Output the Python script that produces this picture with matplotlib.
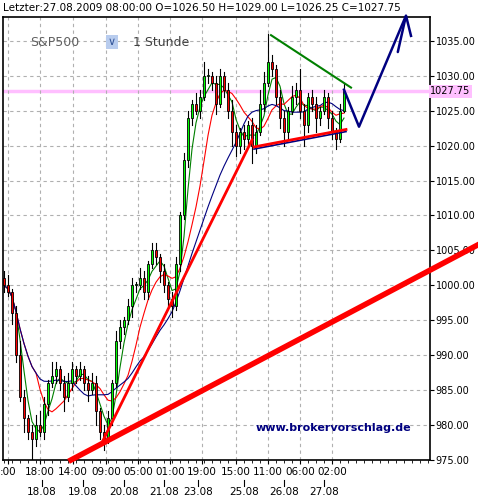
import matplotlib
matplotlib.use("Agg")
import matplotlib.pyplot as plt
import numpy as np
import pandas as pd
from matplotlib.patches import Rectangle

closes = [1000, 999, 996, 990, 984, 981, 979, 978, 980, 979, 983, 986, 987, 988, 986, 984, 986, 988, 987, 988,
          986, 985, 986, 982, 979, 978, 981, 986, 992, 994, 995, 997, 1000, 1000, 1001, 999, 1003, 1005, 1004, 1002,
          1000, 998, 997, 1003, 1010, 1018, 1024, 1026, 1025, 1027, 1030, 1030, 1029, 1026, 1030, 1028, 1025, 1022, 1020, 1022,
          1021, 1023, 1020, 1022, 1026, 1029, 1032, 1031, 1027, 1024, 1022, 1025, 1027, 1028, 1025, 1023, 1027, 1026, 1024, 1025,
          1027, 1024, 1022, 1021, 1025, 1027.75]
wick_up = [1, 1.5, 0.5, 1, 2, 1, 0.5, 1, 1.5, 2, 1, 0.5, 2, 1, 0.5, 1, 1.5, 1, 0.5, 1,
           0.5, 1, 1.5, 1, 0.5, 1, 1, 0.5, 1.5, 1, 0.5, 1, 1, 0.5, 1.5, 1, 0.5, 1, 1, 0.5,
           1, 0.5, 1, 1, 0.5, 1, 1, 0.5, 1.5, 1, 2, 1, 0.5, 1, 1, 0.5, 1, 1.5, 1, 0.5,
           1, 0.5, 1, 1, 2, 1.5, 4, 1, 0.5, 1, 1, 0.5, 1.5, 1, 3, 1, 0.5, 1, 1, 0.5,
           1, 0.5, 1, 0.5, 1, 1.25]
wick_dn = [1, 0.5, 1.5, 1, 0.5, 2, 1, 3, 1, 0.5, 1, 1.5, 0.5, 1, 1, 2, 0.5, 1, 1, 0.5,
           1, 1.5, 0.5, 2, 1, 1.5, 0.5, 1, 0.5, 1, 1, 0.5, 1.5, 1, 0.5, 1, 1, 0.5, 1, 1.5,
           1, 1, 1.5, 0.5, 1, 0.5, 1, 1, 0.5, 1, 0.5, 1, 1, 1.5, 0.5, 1, 1, 2, 1.5, 1,
           1.5, 1, 2.5, 1, 0.5, 1, 0.5, 1, 1, 1.5, 2, 1, 0.5, 1, 1, 3, 1, 1, 2, 1,
           0.5, 1.5, 1, 1.5, 0.5, 0.25]
open0 = 1001
ma_periods = [4, 9, 18]
ma_colors = ["#008000", "#ff0000", "#000080"]
yticks = [975, 980, 985, 990, 995, 1000, 1005, 1010, 1015, 1020, 1025, 1030, 1035]
time_labels = [":00", "18:00", "14:00", "09:00", "05:00", "01:00", "19:00", "15:00", "11:00", "06:00", "02:00"]
time_pos = [1, 9, 17.25, 25.5, 33.5, 41.5, 49.5, 58, 66, 74, 82]
date_labels = ["18.08", "19.08", "20.08", "21.08", "23.08", "25.08", "26.08", "27.08"]
date_pos = [9.5, 19.75, 30, 40, 48.5, 60, 70, 80]
last_price = 1027.75
# trend lines (index, price)
long_trend = ([16.75, 118.5], [975, 1005.8])
steep_trend = ([24.5, 62], [977.5, 1020.8])
tri_low = ([62.5, 85.5], [1019.8, 1022.3])
tri_high = ([66.75, 86.75], [1035.8, 1028.3])
projection = ([85, 88.75, 100.5, 101.75], [1028, 1022.7, 1038.6, 1035.7])

fig = plt.figure(figsize=(4.78, 5.0), dpi=100)
ax = fig.add_axes([3/478, 40/500, 427/478, 443/500])
ax.set_xlim(-0.25, 106.5)
ax.set_ylim(975, 1038.4)

c = np.array(closes, float)
o = np.concatenate([[open0], c[:-1]])
hi = np.maximum(o, c) + np.array(wick_up)
lo = np.minimum(o, c) - np.array(wick_dn)
s = pd.Series(c)
for p, col in zip(ma_periods, ma_colors):
    ax.plot(np.arange(len(c)), s.rolling(p, min_periods=1).mean(), color=col, lw=0.8, zorder=2)
for i in range(len(c)):
    ax.plot([i, i], [lo[i], hi[i]], color="black", lw=0.8, zorder=3)
    b = min(o[i], c[i]); h = max(abs(c[i]-o[i]), 0.15)
    ax.add_patch(Rectangle((i-0.35, b), 0.7, h, facecolor="#00ff00" if c[i] >= o[i] else "#ff0000",
                           edgecolor="black", lw=0.6, zorder=4))

ax.axhline(last_price, color="#ffb0ff", lw=2.5, zorder=1, alpha=0.8)
ax.plot(*long_trend, color="#ff0000", lw=4, zorder=5, clip_on=False)
ax.plot(*steep_trend, color="#ff0000", lw=2, zorder=5)
ax.plot(tri_low[0], [v-0.3 for v in tri_low[1]], color="#000080", lw=1.2, zorder=5)
ax.plot(*tri_low, color="#ff0000", lw=2, zorder=5)
ax.plot(*tri_high, color="#008000", lw=1.5, zorder=5)
ax.plot(*projection, color="#000080", lw=1.8, zorder=5, clip_on=False)
ax.annotate("", xy=(projection[0][2], projection[1][2]), xytext=(projection[0][2]-2.2, projection[1][2]-5.6),
            arrowprops=dict(arrowstyle="-", color="#000080", lw=1.8), annotation_clip=False)

ax.grid(True, color="#b0b0b0", ls=(0, (3, 3)), lw=0.8)
ax.set_yticks(yticks)
ax.set_yticklabels([f"{v:.2f}" for v in yticks], fontsize=7)
ax.yaxis.tick_right()
ax.set_xticks(time_pos)
ax.set_xticklabels(time_labels, fontsize=7.5)
ax.set_xticks(np.arange(0, 107, 2), minor=True)
ax.tick_params(axis="both", length=3, pad=2)
ax.tick_params(axis="y", pad=1)
ax.tick_params(axis="x", which="minor", length=2)
for sp in ax.spines.values():
    sp.set_linewidth(1.2)
for lab, p in zip(date_labels, date_pos):
    ax.text(p, -0.062, lab, transform=ax.get_xaxis_transform(), ha="center", va="top", fontsize=7.5)
    ax.plot([p, p], [-0.045, -0.058], transform=ax.get_xaxis_transform(), color="black", lw=0.8, clip_on=False)
ax.text(1.0, last_price, f"{last_price:.2f}", transform=ax.get_yaxis_transform(), ha="left", va="center",
        fontsize=7, bbox=dict(boxstyle="square,pad=0.15", fc="#ffc0ff", ec="none"))

fig.text(3/478, 1-8/500, "Letzter:27.08.2009 08:00:00 O=1026.50 H=1029.00 L=1026.25 C=1027.75",
         fontsize=7.5, va="center", ha="left")
fig.text(30/478, 1-42/500, "S&P500", fontsize=9, color="#606060", va="center")
fig.text(108/478, 1-42/500, "\u2228", fontsize=8, color="#335599", va="center",
         bbox=dict(boxstyle="square,pad=0.2", fc="#b8ccee", ec="none"))
fig.text(133/478, 1-42/500, "1 Stunde", fontsize=9, color="#404040", va="center")
fig.text(256/478, 1-428/500, "www.brokervorschlag.de", fontsize=8, color="#000080", weight="bold", va="center")
fig.savefig("out.png", dpi=100)
